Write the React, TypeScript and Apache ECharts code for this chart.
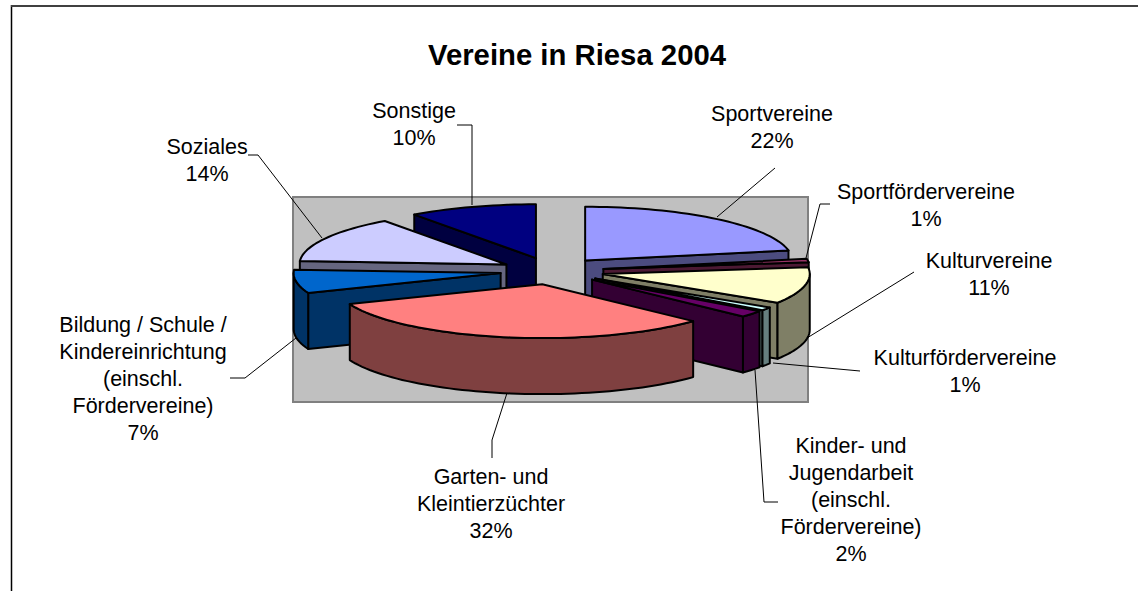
import React, { useEffect, useRef } from "react";
import * as echarts from "echarts";

const TITLE = "Vereine in Riesa 2004";
const CATEGORIES = [
  "Sportvereine",
  "Sportfördervereine",
  "Kulturvereine",
  "Kulturfördervereine",
  "Kinder- und\nJugendarbeit\n(einschl.\nFördervereine)",
  "Garten- und\nKleintierzüchter",
  "Bildung / Schule /\nKindereinrichtung\n(einschl.\nFördervereine)",
  "Soziales",
  "Sonstige",
];
const VALUES = [22, 1, 11, 1, 2, 32, 7, 14, 10];
const TOP_COLORS = ["#9999FF", "#993366", "#FFFFCC", "#CCFFFF", "#660066", "#FF8080", "#0066CC", "#CCCCFF", "#000080"];
const SIDE_COLORS = ["#4C4C7F", "#4C1933", "#7F7F66", "#667F7F", "#330033", "#7F4040", "#003366", "#666680", "#000040"];
const DRAW_ORDER = [8, 0, 7, 6, 1, 2, 3, 4, 5];

// label anchor (centre x, top y of first line)
const LABEL_POS = [
  [772, 100], [926, 178], [989, 247], [965, 344], [851, 432], [491, 463], [143, 311], [207, 133], [414, 97],
];
const LEADERS = [
  [[775, 168], [717, 217]],
  [[830, 204], [820, 204], [806, 258]],
  [[914, 272], [807, 338]],
  [[860, 371], [773, 363]],
  [[755, 370], [764, 502], [778, 502]],
  [[507, 393], [492, 440], [492, 458]],
  [[296, 338], [245, 378], [230, 378]],
  [[248, 155], [258, 155], [322, 238]],
  [[457, 125], [472, 125], [472, 205]],
];

const CX = 552, CY = 271, RX = 207, SQUASH = 0.26, EXPLODE = 52, DEPTH = 56;
const FONT = "Liberation Sans";
const TOTAL = VALUES.reduce((a, b) => a + b, 0);
const RAD = Math.PI / 180;

function sliceAngles(i: number) {
  let sum = 0;
  for (let k = 0; k < i; k++) sum += VALUES[k];
  return [(sum / TOTAL) * 360, ((sum + VALUES[i]) / TOTAL) * 360];
}

function renderSlice(params: any, api: any) {
  const i = api.value(0);
  const [a, b] = sliceAngles(i);
  const mid = (a + b) / 2;
  const ax = CX + EXPLODE * Math.sin(mid * RAD);
  const ay = CY - EXPLODE * SQUASH * Math.cos(mid * RAD);
  const pt = (deg: number, dy = 0) => [
    ax + RX * Math.sin(deg * RAD),
    ay - RX * SQUASH * Math.cos(deg * RAD) + dy,
  ];
  const arc = (from: number, to: number, dy = 0) => {
    const n = Math.max(2, Math.ceil(Math.abs(to - from) / 2));
    const out: number[][] = [];
    for (let k = 0; k <= n; k++) out.push(pt(from + ((to - from) * k) / n, dy));
    return out;
  };
  const edge = { stroke: "#000", lineWidth: 2, lineJoin: "round" };
  const poly = (points: number[][], fill: string) => ({
    type: "polygon",
    shape: { points },
    style: { fill, ...edge },
  });
  const children: any[] = [];
  const side = SIDE_COLORS[i];
  if (-Math.sin(a * RAD) > 0) {
    const p = pt(a);
    children.push(poly([[ax, ay], p, [p[0], p[1] + DEPTH], [ax, ay + DEPTH]], side));
  }
  if (Math.sin(b * RAD) > 0) {
    const p = pt(b);
    children.push(poly([[ax, ay], p, [p[0], p[1] + DEPTH], [ax, ay + DEPTH]], side));
  }
  const r0 = Math.max(a, 90), r1 = Math.min(b, 270);
  if (r1 > r0) {
    children.push(poly([...arc(r0, r1), ...arc(r1, r0, DEPTH)], side));
  }
  children.push(poly([[ax, ay], ...arc(a, b)], TOP_COLORS[i]));
  return { type: "group", children };
}

export default function App() {
  const ref = useRef<HTMLDivElement>(null);
  useEffect(() => {
    const chart = echarts.init(ref.current!, null, { renderer: "svg" });
    const graphics: any[] = [
      { type: "rect", z: 0, shape: { x: 293, y: 197, width: 515, height: 205 }, style: { fill: "#C0C0C0", stroke: "#808080", lineWidth: 2 } },
      { type: "line", z: 0, shape: { x1: 11.5, y1: 5, x2: 11.5, y2: 591 }, style: { stroke: "#000", lineWidth: 1.5 } },
      { type: "line", z: 0, shape: { x1: 11, y1: 6, x2: 1138, y2: 6 }, style: { stroke: "#404040", lineWidth: 2 } },
    ];
    LEADERS.forEach((points) => {
      graphics.push({ type: "polyline", z: 50, shape: { points }, style: { fill: "none", stroke: "#000", lineWidth: 1 } });
    });
    CATEGORIES.forEach((name, i) => {
      graphics.push({
        type: "text",
        z: 60,
        x: LABEL_POS[i][0],
        y: LABEL_POS[i][1],
        style: {
          text: `${name}\n${VALUES[i]}%`,
          fontFamily: FONT,
          fontSize: 21.5,
          lineHeight: 27,
          fill: "#000",
          align: "center",
          verticalAlign: "top",
        },
      });
    });
    chart.setOption({
      animation: false,
      backgroundColor: "#fff",
      title: {
        text: TITLE,
        left: 572,
        top: 35,
        textAlign: "center",
        textStyle: { fontFamily: FONT, fontSize: 29.3, fontWeight: "bold", color: "#000" },
      },
      graphic: { elements: graphics },
      series: [
        {
          type: "custom",
          coordinateSystem: "none",
          z: 10,
          renderItem: renderSlice,
          silent: true,
          data: DRAW_ORDER.map((i) => ({ name: CATEGORIES[i], value: [i, VALUES[i]] })),
        },
      ],
    });
    return () => chart.dispose();
  }, []);
  return <div ref={ref} style={{ position: "fixed", left: 0, top: 0, width: 1138, height: 591 }} />;
}
